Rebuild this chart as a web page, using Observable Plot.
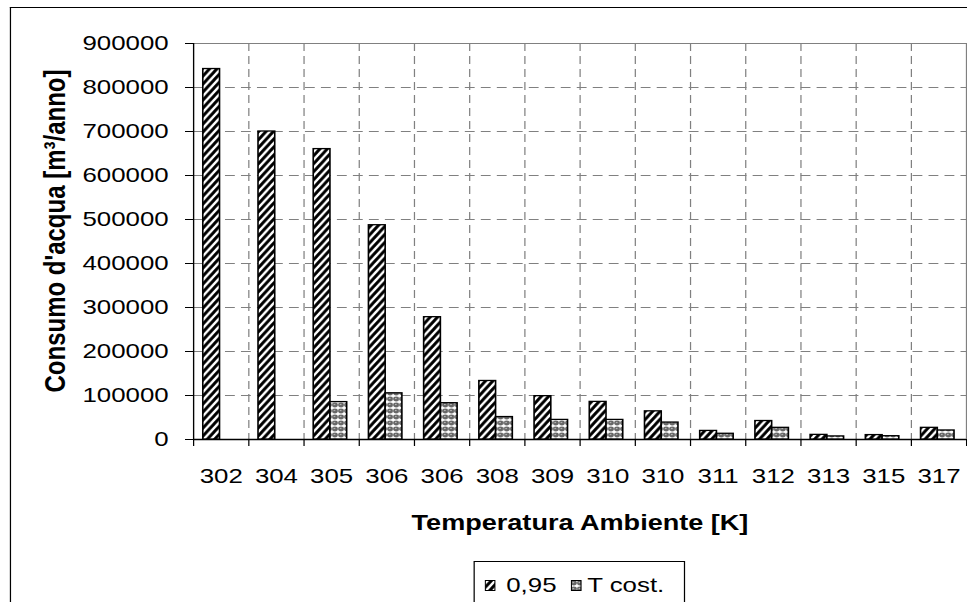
<!DOCTYPE html>
<html>
<head>
<meta charset="utf-8">
<script src="https://cdn.jsdelivr.net/npm/d3@7"></script>
<script src="https://cdn.jsdelivr.net/npm/@observablehq/plot@0.6"></script>
<style>
  html, body { margin: 0; padding: 0; background: #fff; }
  #wrap { position: relative; width: 967px; height: 602px; overflow: hidden; background: #fff; }
  #stage { position: absolute; left: 0; top: 0; height: 602px; transform-origin: 0 0;
           font-family: 'Liberation Sans', Arial, sans-serif; color: #000; }
  .layer { position: absolute; left: 0; top: 0; }
  .frame { position: absolute; border-left: 1.5px solid #000; border-top: 1.5px solid #000; }
  .ytitle { position: absolute; font-weight: bold; font-size: 24px; line-height: 24px; white-space: nowrap;
            transform: translate(-50%, -50%) rotate(-90deg); }
  .xtitle { position: absolute; font-weight: bold; font-size: 22px; line-height: 22px; white-space: nowrap;
            transform: translateX(-50%); }
  .legend { position: absolute; border: 1px solid #000; background: #fff; box-sizing: border-box; }
  .legend .sw { position: absolute; }
  .legend .lt { position: absolute; font-size: 21px; line-height: 21px; white-space: nowrap; }
</style>
</head>
<body>
<svg width="0" height="0" style="position:absolute">
  <defs>
    <pattern id="hatch095" patternUnits="userSpaceOnUse" width="6" height="8">
      <rect width="6" height="8" fill="#fff"/>
      <path d="M-3,4 L3,-4 M0,8 L6,0 M3,12 L9,4" stroke="#000" stroke-width="2.6"/>
    </pattern>
    <pattern id="patTcost" patternUnits="userSpaceOnUse" width="5" height="6">
      <rect width="5" height="6" fill="#fff"/>
      <circle cx="2.5" cy="3" r="2.4" fill="#666"/>
      <circle cx="2.1" cy="2.5" r="0.7" fill="#bbb"/>
    </pattern>
  </defs>
</svg>
<div id="wrap"><div id="stage"></div></div>
<script>
// ---- data ----
const categories = ["302", "304", "305", "306", "306", "308", "309", "310", "310", "311", "312", "313", "315", "317"];
const seriesNames = ["0,95", "T cost."];
const val095 = [842000, 700000, 660000, 487000, 278000, 133000, 98500, 85500, 64000, 19500, 42000, 10500, 10000, 26500];
const valTcost = [null, null, 85000, 105000, 82500, 51000, 44500, 44500, 38500, 13000, 26500, 7000, 7500, 20500];
const yTicks = [0, 100000, 200000, 300000, 400000, 500000, 600000, 700000, 800000, 900000];
const yTitle = "Consumo d'acqua [m³/anno]";
const xTitle = "Temperatura Ambiente [K]";

// ---- layout (the original image is stretched horizontally) ----
const S = 1.23;
const W = 967 / S;
const stage = document.getElementById("stage");
stage.style.width = W + "px";
stage.style.transform = `scaleX(${S})`;

const n = categories.length;
const margins = { marginLeft: 193 / S, marginRight: 1 / S, marginTop: 43, marginBottom: 163 };
const style = { fontFamily: "'Liberation Sans', Arial, sans-serif", fontSize: "21px", color: "#000",
                background: "transparent", overflow: "visible" };
const yDomain = [0, yTicks[yTicks.length - 1]];

// outer chart frame
const frame = document.createElement("div");
frame.className = "frame";
frame.style.left = (10 / S) + "px";
frame.style.top = "7px";
frame.style.width = (W + 20) + "px";
frame.style.height = "700px";
stage.appendChild(frame);

// background layer: grid, axis lines, y ticks, category boundary ticks
const boundaries = d3.range(0, n + 1);
const bg = Plot.plot({
  width: W, height: 602, ...margins, style,
  x: { type: "linear", domain: [0, n], ticks: boundaries, tickFormat: () => "", tickSize: 7, label: null, axis: "bottom" },
  y: { domain: yDomain, ticks: yTicks, tickFormat: d3.format("d"), tickSize: 8 / S, tickPadding: 13.8, label: null },
  marks: [
    Plot.ruleY(yTicks.filter(d => d > 0 && d < yDomain[1]), { stroke: "#808080", strokeDasharray: "8,5" }),
    Plot.ruleX(boundaries.filter(d => d > 0 && d < n), { stroke: "#808080", strokeDasharray: "8,5" }),
    Plot.ruleY([yDomain[1]], { stroke: "#808080", strokeWidth: 1.2 }),
    Plot.ruleX([n], { stroke: "#808080", strokeWidth: 1.2 }),
    Plot.ruleY([0], { stroke: "#000", strokeWidth: 1.3 }),
    Plot.ruleX([0], { stroke: "#000", strokeWidth: 1.1 })
  ]
});
bg.classList.add("layer");
stage.appendChild(bg);

// bars layer
const rows = categories.flatMap((c, i) => [
  { i, s: seriesNames[0], v: val095[i] },
  { i, s: seriesNames[1], v: valTcost[i] }
]);
const bars = Plot.plot({
  width: W, height: 602, ...margins, style,
  facet: { data: rows, x: "i" },
  fx: { domain: d3.range(n), padding: 0, round: false, axis: "bottom", tickFormat: i => categories[i], tickSize: 0, tickPadding: 29, label: null },
  x: { domain: seriesNames, paddingInner: 0, paddingOuter: 0.65, align: 0.45, round: false, axis: null },
  y: { domain: yDomain, axis: null },
  marks: [
    Plot.barY(rows, { filter: d => d.s === seriesNames[0] && d.v != null, x: "s", y: "v",
                      fill: "url(#hatch095)", stroke: "#000", strokeWidth: 1.3 }),
    Plot.barY(rows, { filter: d => d.s === seriesNames[1] && d.v != null, x: "s", y: "v",
                      fill: "url(#patTcost)", stroke: "#000", strokeWidth: 1.3 })
  ]
});
bars.classList.add("layer");
stage.appendChild(bars);

// axis titles
const yt = document.createElement("div");
yt.className = "ytitle";
yt.textContent = yTitle;
yt.style.left = (55 / S) + "px";
yt.style.top = "231px";
stage.appendChild(yt);

const xt = document.createElement("div");
xt.className = "xtitle";
xt.textContent = xTitle;
xt.style.left = (580 / S) + "px";
xt.style.top = "512px";
stage.appendChild(xt);

// legend
const lg = document.createElement("div");
lg.className = "legend";
lg.style.left = (473 / S) + "px";
lg.style.top = "561px";
lg.style.width = ((685 - 473) / S) + "px";
lg.style.height = "42px";
const fills = ["url(#hatch095)", "url(#patTcost)"];
const swX = [10 / S, 97 / S], txX = [32 / S, 113 / S];
seriesNames.forEach((name, k) => {
  const sw = document.createElementNS("http://www.w3.org/2000/svg", "svg");
  sw.setAttribute("class", "sw");
  sw.setAttribute("width", 11 / S);
  sw.setAttribute("height", 11);
  sw.style.left = swX[k] + "px";
  sw.style.top = "18px";
  const r = document.createElementNS("http://www.w3.org/2000/svg", "rect");
  r.setAttribute("x", 0.5); r.setAttribute("y", 0.5);
  r.setAttribute("width", 11 / S - 1); r.setAttribute("height", 10);
  r.setAttribute("fill", fills[k]); r.setAttribute("stroke", "#000"); r.setAttribute("stroke-width", 1);
  sw.appendChild(r);
  lg.appendChild(sw);
  const t = document.createElement("div");
  t.className = "lt";
  t.textContent = name;
  t.style.left = txX[k] + "px";
  t.style.top = "12px";
  lg.appendChild(t);
});
stage.appendChild(lg);
</script>
</body>
</html>
